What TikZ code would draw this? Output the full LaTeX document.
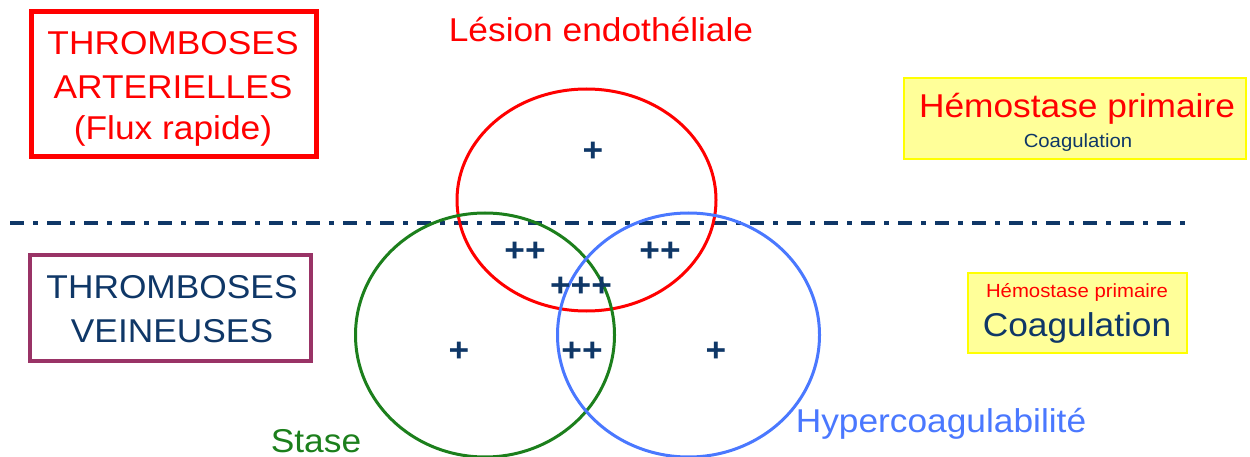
\documentclass[tikz,border=0pt]{standalone}
\usepackage{fontspec}
\setmainfont[FakeStretch=1.07]{Liberation Sans}
\usetikzlibrary{shapes.geometric}
\definecolor{navy}{HTML}{0F3767}
\definecolor{myred}{HTML}{FF0000}
\definecolor{mygreen}{HTML}{1C7F1C}
\definecolor{myblue}{HTML}{4A78FF}
\definecolor{mypurple}{HTML}{993366}
\definecolor{boxfill}{HTML}{FFFF99}
\definecolor{boxline}{HTML}{FFFF00}
\tikzset{
  big/.style={font=\fontsize{33}{40}\selectfont, inner sep=0pt, anchor=base},
  small/.style={font=\fontsize{19}{22}\selectfont, inner sep=0pt, anchor=base},
  plus/.style={font=\bfseries\fontsize{33}{33}\selectfont, text=navy, inner sep=0pt},
  ring/.style={ellipse, draw, line width=3pt, fill=none},
  yellowbox/.style={draw=boxline, fill=boxfill, line width=1.5pt}
}
\begin{document}
\begin{tikzpicture}[x=1pt,y=-1pt]
\useasboundingbox (0,0) rectangle (1250,457);
% boxes
\draw[myred, line width=5pt] (31,12) rectangle (316,157);
\node (a1) [big, text=myred] at (173,55) {THROMBOSES};
\node (a2) [big, text=myred] at (173,99) {ARTERIELLES};
\node (a3) [big, text=myred] at (173,140) {(Flux rapide)};
\draw[mypurple, line width=4pt] (30,255) rectangle (311,361);
\node (v1) [big, text=navy] at (172,298) {THROMBOSES};
\node (v2) [big, text=navy] at (172,342) {VEINEUSES};
\draw[yellowbox] (904,78) rectangle (1246,159);
\node (h1) [big, text=myred] at (1077,118) {Hémostase primaire};
\node (c1) [small, text=navy] at (1078,148) {Coagulation};
\draw[yellowbox] (968,273) rectangle (1187,353);
\node (h2) [small, text=myred] at (1077,297) {Hémostase primaire};
\node (c2) [big, text=navy] at (1077,336) {Coagulation};
% dash-dot line
\coordinate (l0) at (10,223);
\coordinate (l1) at (1185,223);
\draw[navy, line width=4.5pt, dash pattern=on 14pt off 9pt on 5pt off 9pt] (l0) -- (l1);
% circles
\node (red) [ring, draw=myred, minimum width=259pt, minimum height=222pt] at (586.5,200) {};
\node (green) [ring, draw=mygreen, minimum width=259pt, minimum height=244pt] at (485,335) {};
\node (blue) [ring, draw=myblue, minimum width=262pt, minimum height=244pt] at (688.5,335) {};
% labels
\node (lesion) [big, text=myred] at (601,42) {Lésion endothéliale};
\node (stase) [big, text=mygreen] at (316,452) {Stase};
\node (hyper) [big, text=myblue] at (941,432) {Hypercoagulabilité};
% pluses
\node (p1) [plus] at (593,152) {+};
\node (p2) [plus] at (525,252) {++};
\node (p3) [plus] at (660,252) {++};
\node (p4) [plus] at (581,287) {+++};
\node (p5) [plus] at (459,352) {+};
\node (p6) [plus] at (582,352) {++};
\node (p7) [plus] at (716,352) {+};
\end{tikzpicture}
\end{document}
